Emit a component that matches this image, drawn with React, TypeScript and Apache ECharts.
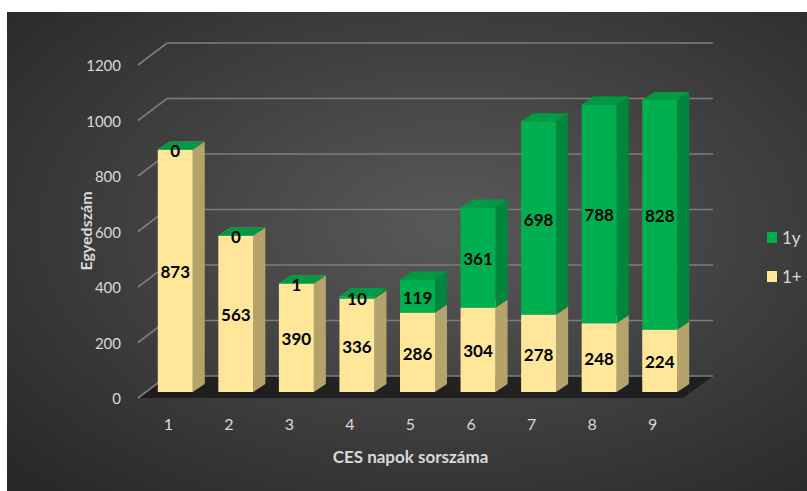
import React, { useEffect, useRef } from 'react';
import * as echarts from 'echarts';

const categories = ['1', '2', '3', '4', '5', '6', '7', '8', '9'];
const adultValues = [873, 563, 390, 336, 286, 304, 278, 248, 224]; // 1+
const juvenileValues = [0, 0, 1, 10, 119, 361, 698, 788, 828]; // 1y
const yTicks = [0, 200, 400, 600, 800, 1000, 1200];
const seriesNames = ['1y', '1+'];
const yTitle = 'Egyedszám';
const xTitle = 'CES napok sorszáma';

const WALL_DX = 29;
const WALL_DY = -22;
const BAR_SHIFT_X = 7;
const BAR_SHIFT_Y = -6;
const BAR_W = 35;
const BAR_DX = 12;
const BAR_DY = -8;
const FONT = 'Lato, "Open Sans", sans-serif';

function makeBarRenderer(front: string, side: string, top: string) {
  return (params: any, api: any) => {
    const i = api.value(0);
    const base = api.value(1);
    const topV = api.value(2);
    const val = api.value(3);
    const pb = api.coord([i, base]);
    const pt = api.coord([i, topV]);
    const cx = pb[0] + BAR_SHIFT_X;
    const x0 = cx - BAR_W / 2;
    const x1 = cx + BAR_W / 2;
    const yb = pb[1] + BAR_SHIFT_Y;
    const yt = pt[1] + BAR_SHIFT_Y;
    return {
      type: 'group',
      children: [
        {
          type: 'polygon',
          shape: { points: [[x1, yb], [x1 + BAR_DX, yb + BAR_DY], [x1 + BAR_DX, yt + BAR_DY], [x1, yt]] },
          style: { fill: side },
        },
        {
          type: 'polygon',
          shape: { points: [[x0, yt], [x1, yt], [x1 + BAR_DX, yt + BAR_DY], [x0 + BAR_DX, yt + BAR_DY]] },
          style: { fill: top },
        },
        {
          type: 'rect',
          shape: { x: x0, y: yt, width: BAR_W, height: yb - yt },
          style: { fill: front },
        },
        {
          type: 'text',
          x: cx,
          y: (yb + yt) / 2 + 1,
          style: {
            text: String(val),
            align: 'center',
            verticalAlign: 'middle',
            fill: '#000000',
            font: `bold 17px ${FONT}`,
          },
        },
      ],
    };
  };
}

export default function App() {
  const ref = useRef<HTMLDivElement>(null);
  useEffect(() => {
    if (!ref.current) return;
    const chart = echarts.init(ref.current, undefined, { renderer: 'svg' });

    const adultData = categories.map((c, i) => [i, 0, adultValues[i], adultValues[i]]);
    const juvData = categories.map((c, i) => [
      i,
      adultValues[i],
      adultValues[i] + juvenileValues[i],
      juvenileValues[i],
    ]);

    chart.setOption({
      animation: false,
      backgroundColor: '#ffffff',
      graphic: [
        {
          type: 'rect',
          z: -100,
          silent: true,
          shape: { x: 7, y: 12, width: 800, height: 479 },
          style: {
            fill: new echarts.graphic.RadialGradient(0.55, 0.45, 0.75, [
              { offset: 0, color: '#595959' },
              { offset: 1, color: '#282828' },
            ]),
          },
        },
        {
          type: 'text',
          x: 85,
          y: 231,
          rotation: Math.PI / 2,
          silent: true,
          style: {
            text: yTitle,
            align: 'center',
            verticalAlign: 'middle',
            fill: '#d9d9d9',
            font: `bold 16px ${FONT}`,
          },
        },
      ],
      grid: { left: 138, right: 124, top: 65, bottom: 93 },
      legend: {
        data: seriesNames,
        orient: 'vertical',
        left: 762,
        top: 224,
        itemWidth: 10,
        itemHeight: 11,
        itemGap: 22,
        icon: 'rect',
        textStyle: { color: '#d9d9d9', fontSize: 17, fontFamily: FONT },
      },
      xAxis: {
        type: 'category',
        data: categories,
        name: xTitle,
        nameLocation: 'middle',
        nameGap: 50,
        nameTextStyle: { color: '#d9d9d9', fontSize: 17, fontWeight: 'bold', fontFamily: FONT },
        axisLine: { show: false },
        axisTick: { show: false },
        axisLabel: { color: '#d9d9d9', fontSize: 16, margin: 17, fontFamily: FONT },
      },
      yAxis: {
        type: 'value',
        min: 0,
        max: 1200,
        interval: 200,
        axisLine: { show: false },
        axisTick: { show: false },
        splitLine: { show: false },
        axisLabel: {
          color: '#d9d9d9',
          fontSize: 15,
          margin: 17,
          fontFamily: FONT,
          formatter: (v: number) => String(v),
        },
      },
      series: [
        {
          type: 'custom',
          name: 'floor',
          z: 1,
          silent: true,
          data: [[0, 0]],
          encode: { x: 0, y: 1 },
          renderItem: (params: any, api: any) => {
            const cs = params.coordSys;
            const y = api.coord([0, api.value(1)])[1];
            const xl = cs.x;
            const xr = cs.x + cs.width;
            return {
              type: 'polygon',
              shape: {
                points: [
                  [xl, y],
                  [xr, y],
                  [xr + WALL_DX + 1, y + WALL_DY],
                  [xl + WALL_DX, y + WALL_DY],
                ],
              },
              style: { fill: 'rgba(12,12,12,0.6)' },
            };
          },
        },
        {
          type: 'custom',
          name: 'grid',
          z: 2,
          silent: true,
          data: yTicks.map((v) => [0, v]),
          encode: { x: 0, y: 1 },
          renderItem: (params: any, api: any) => {
            const cs = params.coordSys;
            const y = api.coord([0, api.value(1)])[1];
            const xl = cs.x;
            const xr = cs.x + cs.width + WALL_DX + 1;
            return {
              type: 'polyline',
              shape: { points: [[xl, y], [xl + WALL_DX, y + WALL_DY], [xr, y + WALL_DY]] },
              style: { stroke: '#7d7d7d', lineWidth: 1.6, fill: 'none' },
            };
          },
        },
        {
          type: 'custom',
          name: '1+',
          z: 3,
          itemStyle: { color: '#FFE699' },
          data: adultData,
          encode: { x: 0, y: [1, 2] },
          renderItem: makeBarRenderer('#FFE699', '#B5A36C', '#E6CF88'),
        },
        {
          type: 'custom',
          name: '1y',
          z: 4,
          itemStyle: { color: '#00B050' },
          data: juvData,
          encode: { x: 0, y: [1, 2] },
          renderItem: makeBarRenderer('#00B050', '#00873D', '#009A44'),
        },
      ],
    });
    return () => chart.dispose();
  }, []);

  return (
    <div
      ref={ref}
      style={{ position: 'fixed', left: 0, top: 0, width: 807, height: 491 }}
    />
  );
}
